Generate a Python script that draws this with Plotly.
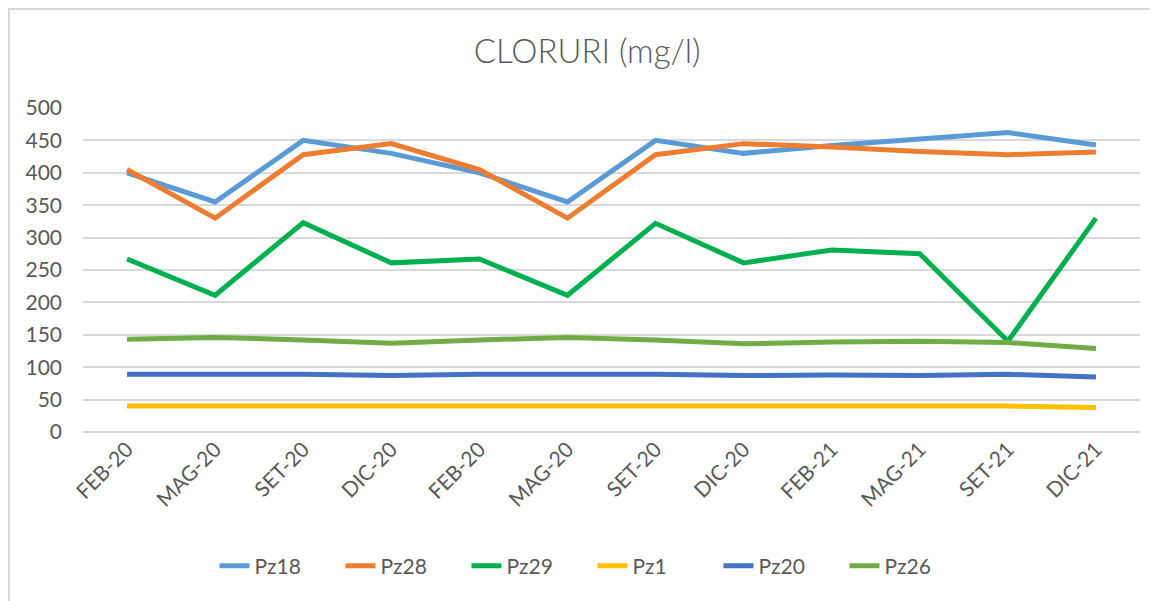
import plotly.graph_objects as go

# Categories (dates repeat in the original sheet)
mesi = ["FEB-20", "MAG-20", "SET-20", "DIC-20", "FEB-20", "MAG-20",
        "SET-20", "DIC-20", "FEB-21", "MAG-21", "SET-21", "DIC-21"]

# Chloride values (mg/l)
pz18 = [400, 355, 450, 430, 400, 355, 450, 430, 442, 452, 462, 443]
pz28 = [405, 330, 428, 445, 405, 330, 428, 445, 440, 433, 428, 432]
pz29 = [267, 211, 323, 261, 267, 211, 322, 261, 281, 275, 140, 330]
pz1 = [40, 40, 40, 40, 40, 40, 40, 40, 40, 40, 40, 38]
pz20 = [89, 89, 89, 87, 89, 89, 89, 87, 88, 87, 89, 85]
pz26 = [143, 146, 142, 137, 142, 146, 142, 136, 139, 140, 138, 129]

series = [
    ("Pz18", pz18, "#5B9BD5"),
    ("Pz28", pz28, "#ED7D31"),
    ("Pz29", pz29, "#00B050"),
    ("Pz1", pz1, "#FFC000"),
    ("Pz20", pz20, "#4472C4"),
    ("Pz26", pz26, "#70AD47"),
]

xpos = list(range(len(mesi)))
FONT = "Lato"
GREY = "#595959"

fig = go.Figure()
for name, vals, color in series:
    fig.add_trace(go.Scatter(
        x=xpos, y=vals, name=name, mode="lines",
        line=dict(color=color, width=5),
    ))

# page body has an 8px margin, so the figure is a bit smaller than the window
fig.update_layout(
    width=1150, height=593,
    margin=dict(l=75, r=18, t=100, b=169, autoexpand=False),
    paper_bgcolor="white", plot_bgcolor="white",
    font=dict(family=FONT, color=GREY, size=21),
    title=dict(text="CLORURI (mg/l)", x=0.477, xref="paper", xanchor="center",
               y=0.926, yanchor="middle",
               font=dict(family=FONT, size=33, color=GREY, weight=300)),
    showlegend=True,
    legend=dict(orientation="h", x=0.482, xanchor="center",
                yref="container", y=0.059, yanchor="middle",
                font=dict(family=FONT, size=21, color=GREY),
                entrywidth=81, entrywidthmode="pixels"),
    shapes=[dict(type="rect", xref="paper", yref="paper",
                 x0=-0.0700, x1=1.03, y0=-0.56, y1=1.3056,
                 line=dict(color="#D9D9D9", width=2), layer="below")],
)

fig.update_xaxes(
    range=[-0.5, len(mesi) - 0.5],
    tickmode="array", tickvals=xpos, ticktext=mesi,
    tickangle=-45, showgrid=False, zeroline=False,
    showline=False, ticks="", automargin=False,
    tickfont=dict(family=FONT, size=21, color=GREY),
)
fig.update_yaxes(
    range=[0, 500], dtick=50, showgrid=True, gridcolor="#D9D9D9", gridwidth=2,
    zeroline=True, zerolinecolor="#D9D9D9", zerolinewidth=2,
    showline=False, ticks="", ticklabelstandoff=20, automargin=False,
    tickfont=dict(family=FONT, size=21, color=GREY),
)

fig.write_html("out.html")
